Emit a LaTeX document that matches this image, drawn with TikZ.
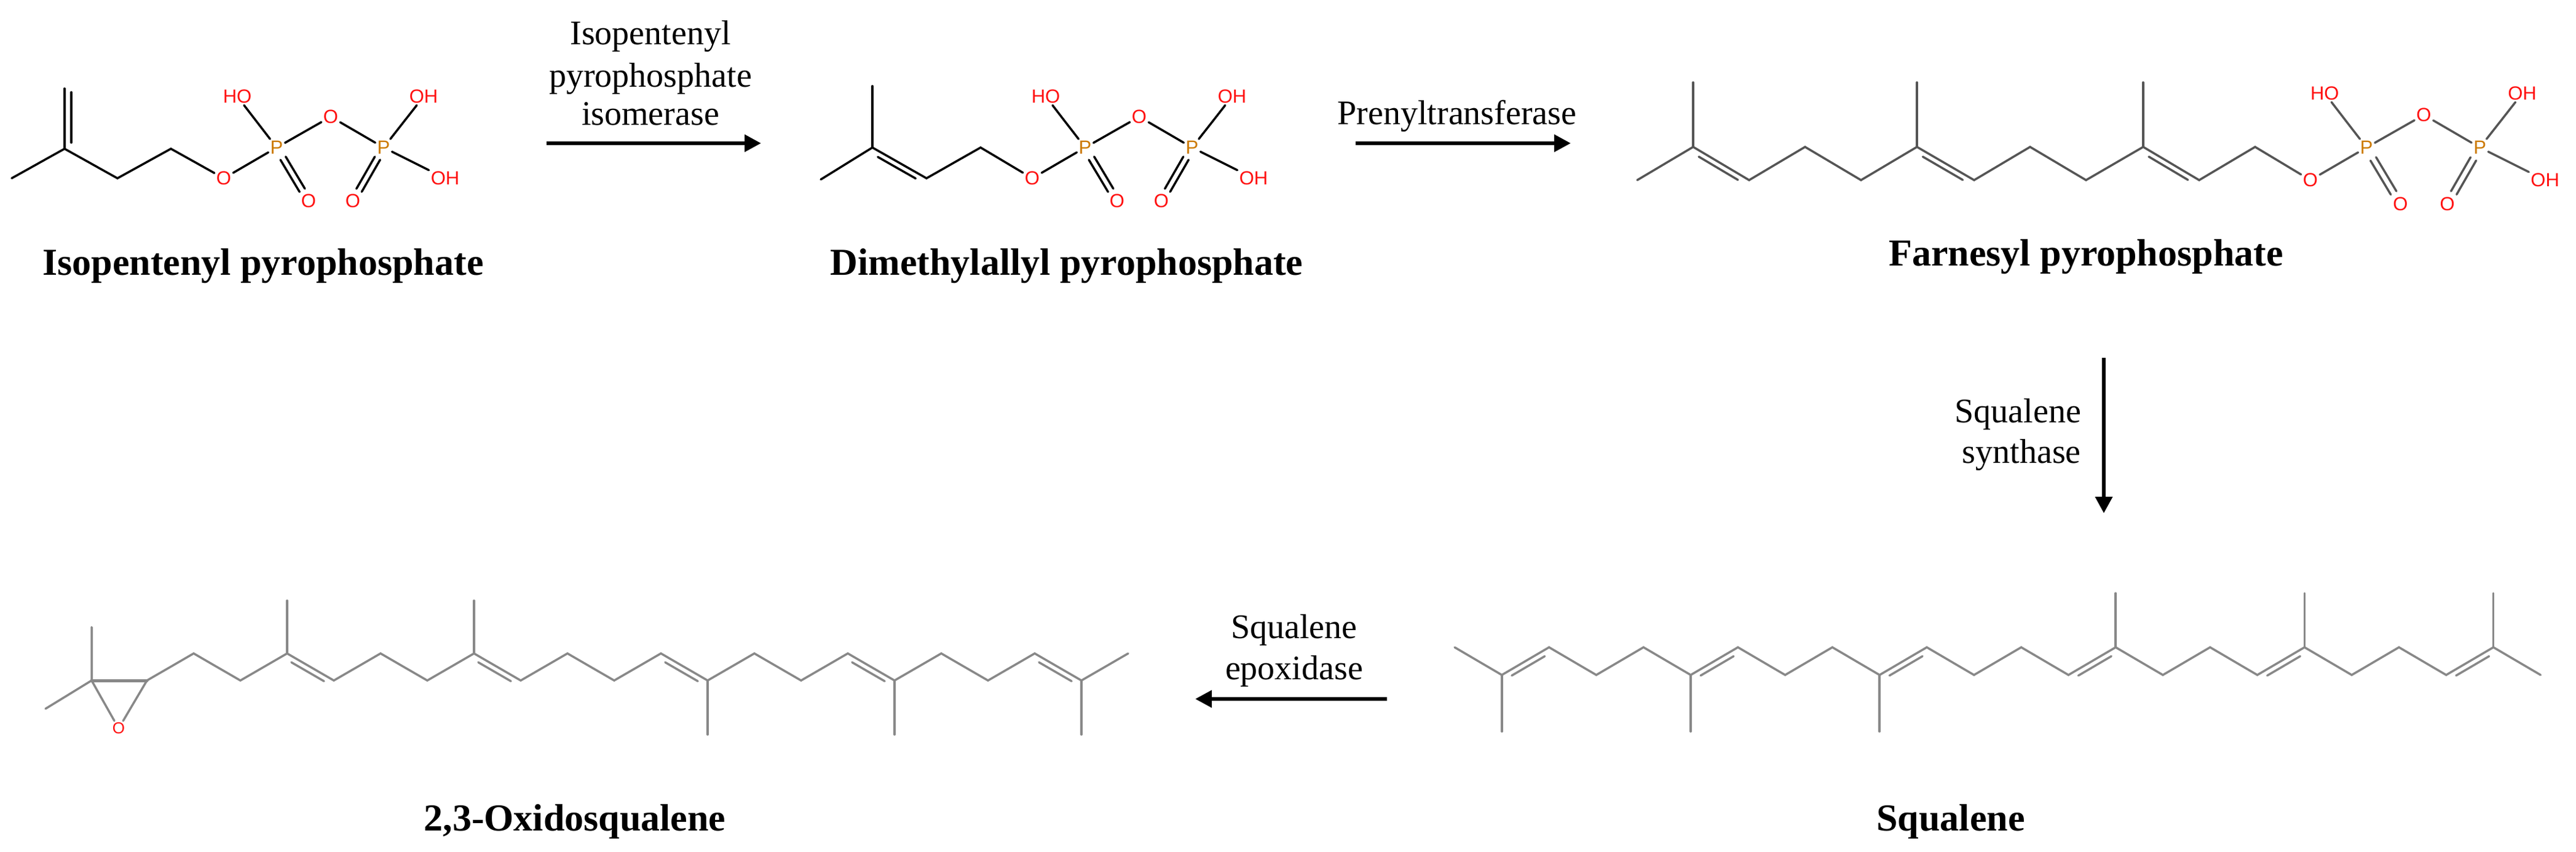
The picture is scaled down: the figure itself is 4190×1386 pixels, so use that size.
\documentclass[tikz,border=0pt]{standalone}
\usepackage{fontspec}
\setmainfont{Liberation Serif}
\newfontfamily\atomf{Liberation Sans}
\usetikzlibrary{calc,arrows.meta}
\definecolor{ored}{HTML}{FF1010}
\definecolor{porange}{HTML}{CC7A00}
\definecolor{fgray}{HTML}{555555}
\definecolor{sgray}{HTML}{888888}
\newcommand\dblin[3]{\draw[#3] ($(#1)!0.15!(#2)!9pt!-90:(#2)$) -- ($(#1)!0.85!(#2)!9pt!90:(#1)$);}
\tikzset{
  bnd/.style={line width=3.5pt,line cap=round,black},
  fbnd/.style={line width=3.5pt,line cap=round,fgray},
  gbnd/.style={line width=3.5pt,line cap=round,sgray},
  pybond/.style={bnd},
  oat/.style={text=ored,font=\atomf\fontsize{31}{31}\selectfont,inner sep=3pt},
  pat/.style={text=porange,font=\atomf\fontsize{31}{31}\selectfont,inner sep=3pt},
  lbl/.style={font=\fontsize{62}{70}\selectfont\bfseries,inner sep=0pt},
  enz/.style={font=\fontsize{56}{66}\selectfont,inner sep=0pt},
  rarrow/.style={line width=6.5pt,-{Triangle[length=27pt,width=27pt]}},
  pyro/.pic={
    \node[oat] (-O) at (0,0) {O};
    \node[pat] (-P) at (86,-50) {P};
    \node[oat] (-HO) at (22,-133) {HO};
    \node[oat] (-Ob) at (174,-100) {O};
    \node[pat] (-P2) at (260,-50) {P};
    \node[oat] (-OHt) at (325,-133) {OH};
    \node[oat] (-OHr) at (360,0) {OH};
    \node[oat] (-O1) at (138,37) {O};
    \node[oat] (-O2) at (210,37) {O};
    \draw[pybond] (-O) -- (-P);
    \draw[pybond] (-P) -- (-HO);
    \draw[pybond] (-P) -- (-Ob);
    \draw[pybond] (-Ob) -- (-P2);
    \draw[pybond] (-P2) -- (-OHt);
    \draw[pybond] (-P2) -- (-OHr);
    \draw[pybond] (100.7,-35.2) -- (131.9,17);
    \draw[pybond] (92.1,-30) -- (123.3,22.2);
    \draw[pybond] (254.3,-30.1) -- (224.3,22.1);
    \draw[pybond] (245.7,-35.1) -- (215.7,17.1);
  }
}
\begin{document}
\begin{tikzpicture}[x=1pt,y=-1pt]
\useasboundingbox (0,0) rectangle (4190,1386);
% ---------- IPP
\coordinate (a1) at (19,290);
\coordinate (a2) at (105,242);
\coordinate (a3) at (105,144);
\coordinate (a4) at (191,290);
\coordinate (a5) at (278,242);
\pic (ipp) at (364,290) {pyro};
\draw[bnd] (a1) -- (a2) -- (a4) -- (a5) -- (ipp-O);
\draw[bnd] (a2) -- (a3);
\draw[bnd] (116,232) -- (116,150);
\node[lbl,anchor=base] (lipp) at (428,447) {Isopentenyl pyrophosphate};
% ---------- arrow 1
\coordinate (r1s) at (889,233);
\coordinate (r1e) at (1238,233);
\draw[rarrow] (r1s) -- (r1e);
\node[enz,anchor=base] (e1a) at (1058,73) {Isopentenyl};
\node[enz,anchor=base] (e1b) at (1058,142) {pyrophosphate};
\node[enz,anchor=base] (e1c) at (1058,204) {isomerase};
% ---------- DMAPP
\coordinate (d1) at (1419,140);
\coordinate (d2) at (1419,240);
\coordinate (d3) at (1335,292);
\coordinate (d4) at (1507,290);
\coordinate (d5) at (1595,240);
\pic (dma) at (1679,290) {pyro};
\draw[bnd] (d3) -- (d2) -- (d4) -- (d5) -- (dma-O);
\draw[bnd] (d1) -- (d2);
\dblin{d2}{d4}{bnd}
\node[lbl,anchor=base] (ldma) at (1735,447) {Dimethylallyl pyrophosphate};
% ---------- arrow 2
\coordinate (r2s) at (2205,233);
\coordinate (r2e) at (2555,233);
\draw[rarrow] (r2s) -- (r2e);
\node[enz,anchor=base] (e2) at (2370,202) {Prenyltransferase};
% ---------- FPP
\foreach \n/\x/\y in {1/2663/293,2/2754/239,3/2845/293,4/2936/239,5/3027/293,6/3118/239,7/3211/293,8/3302/239,9/3393/293,10/3486/239,11/3577/293,12/3668/239}
  {\coordinate (f\n) at (\x,\y);}
\coordinate (fm2) at (2754,134);
\coordinate (fm6) at (3118,134);
\coordinate (fm10) at (3486,134);
\pic[pybond/.style={fbnd},scale=1.06] (fpp) at (3758,293) {pyro};
\draw[fbnd] (f1) \foreach \i in {2,...,12}{ -- (f\i)} -- (fpp-O);
\foreach \i in {2,6,10}{\draw[fbnd] (f\i) -- (fm\i);}
\dblin{f2}{f3}{fbnd}
\dblin{f6}{f7}{fbnd}
\dblin{f10}{f11}{fbnd}
\node[lbl,anchor=base] (lfpp) at (3393,432) {Farnesyl pyrophosphate};
% ---------- arrow 3
\coordinate (r3s) at (3422,582);
\coordinate (r3e) at (3422,835);
\draw[rarrow] (r3s) -- (r3e);
\node[enz,anchor=base east] (e3a) at (3385,687) {Squalene};
\node[enz,anchor=base east] (e3b) at (3385,753) {synthase};
% ---------- Squalene
\foreach \i in {0,...,23}{
  \pgfmathsetmacro\xx{2366+76.8*\i}
  \pgfmathsetmacro\yy{mod(\i,2)==0 ? 1053 : 1098}
  \coordinate (s\i) at (\xx,\yy);}
\draw[gbnd] (s0) \foreach \i in {1,...,23}{ -- (s\i)};
\foreach \i in {1,5,9}{\draw[gbnd] (s\i) -- ++(0,92);}
\foreach \i in {14,18,22}{\draw[gbnd] (s\i) -- ++(0,-88);}
\foreach \a/\b in {1/2,5/6,9/10,13/14,17/18,21/22}{\dblin{s\a}{s\b}{gbnd}}
\node[lbl,anchor=base] (lsq) at (3173,1351) {Squalene};
% ---------- arrow 4
\coordinate (r4s) at (2256,1137);
\coordinate (r4e) at (1944,1137);
\draw[rarrow] (r4s) -- (r4e);
\node[enz,anchor=base] (e4a) at (2105,1038) {Squalene};
\node[enz,anchor=base] (e4b) at (2105,1105) {epoxidase};
% ---------- Oxidosqualene
\coordinate (c2) at (149,1107);
\coordinate (c2a) at (149,1020);
\coordinate (c2b) at (74,1153);
\node[text=ored,font=\atomf\fontsize{26}{26}\selectfont,inner sep=3pt] (eo) at (193,1185) {O};
\foreach \j in {0,...,21}{
  \pgfmathsetmacro\xx{239+76*\j}
  \pgfmathsetmacro\yy{mod(\j,2)==0 ? 1107 : 1063}
  \coordinate (q\j) at (\xx,\yy);}
\draw[gbnd] (c2a) -- (c2) -- (c2b);
\draw[gbnd,line width=5pt] (c2) -- (q0);
\draw[gbnd] (c2) -- (eo) -- (q0);
\draw[gbnd] (q0) \foreach \j in {1,...,21}{ -- (q\j)};
\foreach \j in {3,7}{\draw[gbnd] (q\j) -- ++(0,-86);}
\foreach \j in {12,16,20}{\draw[gbnd] (q\j) -- ++(0,88);}
\foreach \a/\b in {3/4,7/8,11/12,15/16,19/20}{\dblin{q\a}{q\b}{gbnd}}
\node[lbl,anchor=base] (lox) at (935,1351) {2,3-Oxidosqualene};
\end{tikzpicture}
\end{document}
